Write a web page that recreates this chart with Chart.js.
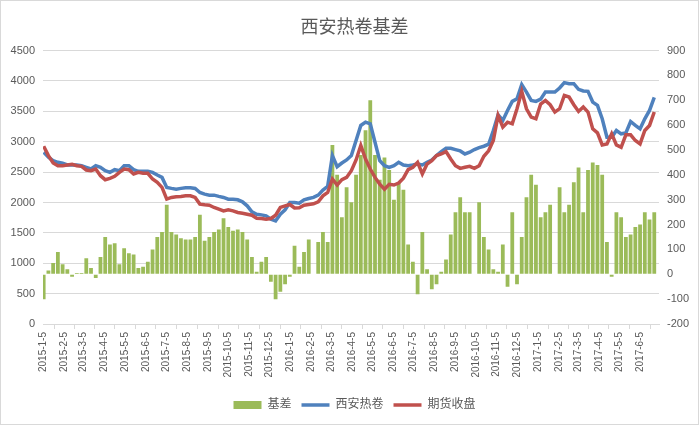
<!DOCTYPE html>
<html>
<head>
<meta charset="utf-8">
<title>西安热卷基差</title>
<script src="https://cdn.jsdelivr.net/npm/chart.js@4.4.0/dist/chart.umd.min.js"></script>
<style>
  html, body { margin: 0; padding: 0; background: #fff; }
</style>
</head>
<body>
<canvas id="basisChart" width="699" height="425"></canvas>
<script>
// weekly readings, first week starts 2015-01-05
const startDate = [2015, 0, 5];

const monthLabels = [
    '2015-1-5', '2015-2-5', '2015-3-5', '2015-4-5', '2015-5-5', '2015-6-5',
    '2015-7-5', '2015-8-5', '2015-9-5', '2015-10-5', '2015-11-5', '2015-12-5',
    '2016-1-5', '2016-2-5', '2016-3-5', '2016-4-5', '2016-5-5', '2016-6-5',
    '2016-7-5', '2016-8-5', '2016-9-5', '2016-10-5', '2016-11-5', '2016-12-5',
    '2017-1-5', '2017-2-5', '2017-3-5', '2017-4-5', '2017-5-5', '2017-6-5'
];

// 基差 (right axis)
const basis = [
    -100, 15, 45, 90, 40, 20, -10, 5, 5, 65,
    25, -15, 70, 150, 120, 125, 40, 105, 85, 80,
    25, 30, 50, 100, 150, 170, 280, 170, 160, 145,
    140, 140, 150, 240, 135, 150, 170, 180, 225, 190,
    175, 180, 170, 140, 70, 10, 50, 70, -30, -100,
    -70, -40, -10, 115, 30, 90, 140, null, 130, 170,
    130, 520, 400, 230, 350, 290, 400, 480, 580, 700,
    480, 380, 470, 420, 300, 370, 340, 120, 50, -80,
    170, 20, -60, -40, 10, 60, 160, 250, 310, 250,
    250, null, 290, 150, 100, 20, 10, 120, -50, 250,
    -40, 150, 310, 400, 360, 230, 250, 280, null, 350,
    250, 280, 370, 430, 250, 420, 450, 440, 400, 130,
    -10, 250, 230, 150, 160, 190, 200, 250, 220, 250
];

// 西安热卷 (left axis)
const xianSpot = [
    2827, 2744, 2689, 2661, 2645, 2617, 2617, 2617, 2606, 2579,
    2551, 2606, 2579, 2524, 2496, 2540, 2524, 2606, 2606, 2540,
    2513, 2513, 2513, 2496, 2452, 2413, 2248, 2232, 2220, 2232,
    2243, 2243, 2232, 2165, 2138, 2121, 2121, 2100, 2083, 2055,
    2055, 2044, 2011, 1945, 1846, 1807, 1796, 1780, 1725, 1697,
    1807, 1879, 2000, 2000, 1989, 2044, 2066, 2083, 2121, 2204,
    2265, 2772, 2590, 2650, 2700, 2772, 3020, 3268, 3322, 3295,
    2992, 2689, 2606, 2579, 2606, 2661, 2617, 2606, 2617, 2634,
    2617, 2661, 2700, 2772, 2838, 2893, 2893, 2871, 2849, 2799,
    2827, 2871, 2904, 2926, 2959, 3185, 3444, 3350, 3515, 3664,
    3708, 3940, 3818, 3680, 3664, 3700, 3818, 3818, 3818, 3885,
    3973, 3956, 3956, 3863, 3835, 3830, 3653, 3598, 3378, 3075,
    3075, 3185, 3130, 3146, 3333, 3268, 3212, 3378, 3515, 3730
];

// 期货收盘 (left axis)
const futuresClose = [
    2926, 2771, 2650, 2606, 2606, 2617, 2628, 2606, 2595, 2535,
    2524, 2551, 2441, 2375, 2397, 2430, 2496, 2551, 2540, 2469,
    2496, 2480, 2480, 2386, 2331, 2248, 2055, 2083, 2094, 2100,
    2110, 2110, 2083, 1973, 1962, 1956, 1918, 1890, 1862, 1879,
    1862, 1835, 1824, 1807, 1791, 1741, 1736, 1725, 1736, 1791,
    1918, 1945, 1967, 1910, 1912, 1956, 1967, 1978, 2011, 2110,
    2165, 2386, 2287, 2375, 2413, 2524, 2700, 2940, 2716, 2551,
    2413, 2303, 2220, 2300, 2287, 2320, 2400, 2540, 2579, 2660,
    2470, 2634, 2689, 2772, 2799, 2838, 2716, 2606, 2562, 2579,
    2595, 2562, 2606, 2760, 2850, 3020, 3433, 3240, 3322, 3295,
    3543, 3830, 3543, 3405, 3378, 3620, 3680, 3609, 3488, 3543,
    3763, 3736, 3609, 3499, 3571, 3488, 3212, 3146, 2948, 2964,
    3130, 2948, 2909, 3113, 3113, 3020, 2964, 3185, 3268, 3490
];

const DAY = 86400000;
const t0 = Date.UTC(...startDate);
function dayOf(label) {
    const [y, m, d] = label.split('-').map(Number);
    return Math.round((Date.UTC(y, m - 1, d) - t0) / DAY);
}
const monthDays = monthLabels.map(dayOf);
const labelByDay = {};
monthLabels.forEach((l, i) => { labelByDay[monthDays[i]] = l; });
const weekDay = i => i * 7;
const toPoints = arr => arr.map((v, i) => ({ x: weekDay(i), y: v }));

const textColor = '#595959';
const gridColor = '#d9d9d9';
const fontFamily = "'Liberation Sans', 'Noto Sans CJK SC', sans-serif";
Chart.defaults.font.family = fontFamily;

const frame = {
    id: 'frame',
    afterDraw(chart) {
        const ctx = chart.ctx;
        ctx.save();
        ctx.strokeStyle = gridColor;
        ctx.lineWidth = 1;
        ctx.strokeRect(0.5, 0.5, chart.width - 1, chart.height - 1);
        ctx.restore();
    }
};

const ctx = document.getElementById('basisChart').getContext('2d');
const basisChart = new Chart(ctx, {
    type: 'bar',
    data: {
        datasets: [{
            label: '基差',
            data: toPoints(basis),
            backgroundColor: '#9BBB59',
            borderWidth: 0,
            yAxisID: 'y1',
            barPercentage: 0.8,
            categoryPercentage: 1,
            pointStyle: 'rect',
            order: 3
        }, {
            type: 'line',
            label: '西安热卷',
            data: toPoints(xianSpot),
            borderColor: '#4F81BD',
            backgroundColor: '#4F81BD',
            borderWidth: 3.5,
            pointRadius: 0,
            pointStyle: 'line',
            tension: 0,
            yAxisID: 'y',
            order: 2
        }, {
            type: 'line',
            label: '期货收盘',
            data: toPoints(futuresClose),
            borderColor: '#C0504D',
            backgroundColor: '#C0504D',
            borderWidth: 3.5,
            pointRadius: 0,
            pointStyle: 'line',
            tension: 0,
            yAxisID: 'y',
            order: 1
        }]
    },
    options: {
        responsive: false,
        animation: false,
        devicePixelRatio: 1,
        layout: { padding: { left: 10, right: 0, top: 0, bottom: 4 } },
        plugins: {
            title: {
                display: true,
                text: '西安热卷基差',
                color: textColor,
                font: { size: 18, weight: 'normal' },
                padding: { top: 17, bottom: 12 }
            },
            legend: {
                position: 'bottom',
                labels: {
                    usePointStyle: true,
                    pointStyleWidth: 28,
                    boxHeight: 8,
                    color: textColor,
                    font: { size: 12 },
                    padding: 10,
                    sort: (a, b) => a.datasetIndex - b.datasetIndex
                }
            },
            tooltip: { enabled: false }
        },
        scales: {
            x: {
                type: 'linear',
                min: -1,
                max: 910,
                offset: false,
                grid: { drawOnChartArea: false, drawTicks: true, tickLength: 5, color: gridColor },
                border: { display: true, color: gridColor },
                ticks: {
                    autoSkip: false,
                    minRotation: 90,
                    maxRotation: 90,
                    padding: 3,
                    color: textColor,
                    font: { size: 10 },
                    callback: v => labelByDay[v] || ''
                },
                afterBuildTicks: s => { s.ticks = monthDays.map(v => ({ value: v })); },
                afterFit: s => { s.height = 65; }
            },
            y: {
                position: 'left',
                min: 0,
                max: 4500,
                ticks: { stepSize: 500, color: textColor, font: { size: 11 }, padding: 8, callback: v => String(v) },
                grid: { color: gridColor, drawTicks: false },
                border: { display: false },
                afterFit: s => { s.width = 33; }
            },
            y1: {
                position: 'right',
                min: -200,
                max: 900,
                ticks: { stepSize: 100, color: textColor, font: { size: 11 }, padding: 8, callback: v => String(v) },
                grid: { drawOnChartArea: false, drawTicks: false },
                border: { display: false },
                afterFit: s => { s.width = 40; }
            }
        }
    },
    plugins: [frame]
});
</script>
</body>
</html>
